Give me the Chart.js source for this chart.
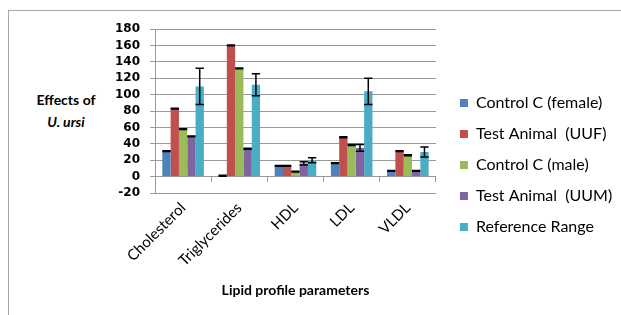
<!DOCTYPE html>
<html><head><meta charset="utf-8">
<script src="https://cdn.jsdelivr.net/npm/chart.js@4.4.1/dist/chart.umd.min.js"></script>
<style>
html,body{margin:0;padding:0;background:#fff;}
#wrap{position:relative;width:621px;height:315px;overflow:hidden;}
#frame{position:absolute;left:8px;top:10px;width:700px;height:400px;border-top:1px solid #a6a6a6;border-left:1px solid #a6a6a6;}
#ytitle{position:absolute;left:20px;top:89px;width:92px;text-align:center;font:bold 14px Lato, sans-serif;line-height:22px;color:#000;}
canvas{position:absolute;left:0;top:0;}
</style></head>
<body><div id="wrap"><div id="frame"></div><div id="ytitle">Effects of<br><i>U. ursi</i></div><canvas id="c" width="621" height="315"></canvas></div>
<script>
const categories = ['Cholesterol', 'Triglycerides', 'HDL', 'LDL', 'VLDL'];
const seriesNames = ['Control C (female)', 'Test Animal  (UUF)', 'Control C (male)', 'Test Animal  (UUM)', 'Reference Range'];
const controlFemale = [31, 1, 13, 16.5, 7];
const testUUF = [83, 160, 13, 48, 31];
const controlMale = [58, 132, 6, 38.5, 26];
const testUUM = [49, 34, 16, 35, 7];
const referenceRange = [110, 112, 20, 104, 30];
const errFemale = [0.5, 0.5, 0.5, 0.5, 0.5];
const errUUF = [0.5, 0.5, 0.5, 0.5, 0.5];
const errMale = [0.5, 0.5, 0.5, 0.5, 0.5];
const errUUM = [0.5, 0.5, 2, 4, 0.5];
const errRef = [22, 13.5, 3, 16, 6];
const yTicks = { min: -20, max: 180, step: 20 };

const seriesValues = [controlFemale, testUUF, controlMale, testUUM, referenceRange];
const seriesErrors = [errFemale, errUUF, errMale, errUUM, errRef];
const colors = ['#4F81BD', '#C0504D', '#9BBB59', '#8064A2', '#4BACC6'];

const errorBars = {
  id: 'errorBars',
  afterDatasetsDraw(chart) {
    const ctx = chart.ctx, y = chart.scales.y;
    ctx.save();
    ctx.strokeStyle = '#000';
    ctx.lineWidth = 1.5;
    chart.data.datasets.forEach((ds, i) => {
      const meta = chart.getDatasetMeta(i);
      meta.data.forEach((bar, j) => {
        const v = ds.data[j], e = seriesErrors[i][j];
        const top = y.getPixelForValue(v + e), bot = y.getPixelForValue(v - e);
        const hw = bar.width / 2;
        ctx.beginPath();
        ctx.moveTo(bar.x, top); ctx.lineTo(bar.x, bot);
        ctx.moveTo(bar.x - hw, top); ctx.lineTo(bar.x + hw, top);
        ctx.moveTo(bar.x - hw, bot); ctx.lineTo(bar.x + hw, bot);
        ctx.stroke();
      });
    });
    ctx.restore();
  }
};

const legendShift = {
  id: 'legendShift',
  afterLayout(chart) {
    const lg = chart.legend;
    if (!lg) return;
    lg.left += 9; lg.right += 60;
    lg.top -= 7; lg.bottom -= 7;
  }
};

const chart = new Chart(document.getElementById('c'), {
  type: 'bar',
  data: {
    labels: categories,
    datasets: seriesNames.map((n, i) => ({
      label: n, data: seriesValues[i], backgroundColor: colors[i], borderWidth: 0,
      categoryPercentage: 0.74, barPercentage: 1
    }))
  },
  options: {
    responsive: false, animation: false,
    layout: { padding: { top: 29, left: 0, right: 40, bottom: 0 } },
    plugins: {
      legend: { position: 'right', labels: { boxWidth: 8, boxHeight: 8, padding: 15, color: '#000', font: { family: 'Lato', size: 16 } } },
      tooltip: { enabled: false }
    },
    scales: {
      x: {
        grid: { display: false, drawTicks: false }, border: { display: false },
        ticks: { color: '#000', font: { family: 'Lato', size: 15 }, maxRotation: 45, minRotation: 45, padding: 6, autoSkip: false },
        title: { display: true, text: 'Lipid profile parameters', color: '#000', font: { family: 'Lato', size: 14, weight: 'bold' }, padding: { top: 0, bottom: 16 } },
        afterFit(s) { s.height = 122; }
      },
      x2: {
        type: 'category', axis: 'x', labels: categories, position: { y: 0 }, offset: true,
        grid: { offset: true, drawOnChartArea: false, drawTicks: true, tickLength: 5, color: '#9a9a9a' },
        border: { display: true, color: '#9a9a9a' },
        ticks: { display: false }
      },
      y: {
        min: yTicks.min, max: yTicks.max,
        ticks: { stepSize: yTicks.step, autoSkip: false, color: '#000', font: { family: 'DejaVu Sans', size: 12, weight: 'bold' }, padding: 10 },
        grid: { color: '#9a9a9a', tickLength: 5 },
        border: { color: '#9a9a9a' },
        afterFit(s) { s.width = 155; }
      }
    }
  },
  plugins: [errorBars, legendShift]
});
const lw = chart.legend.width;
chart.options.layout.padding.right = Math.max(0, 621 - 436 - lw);
chart.update();
</script>
</body></html>
